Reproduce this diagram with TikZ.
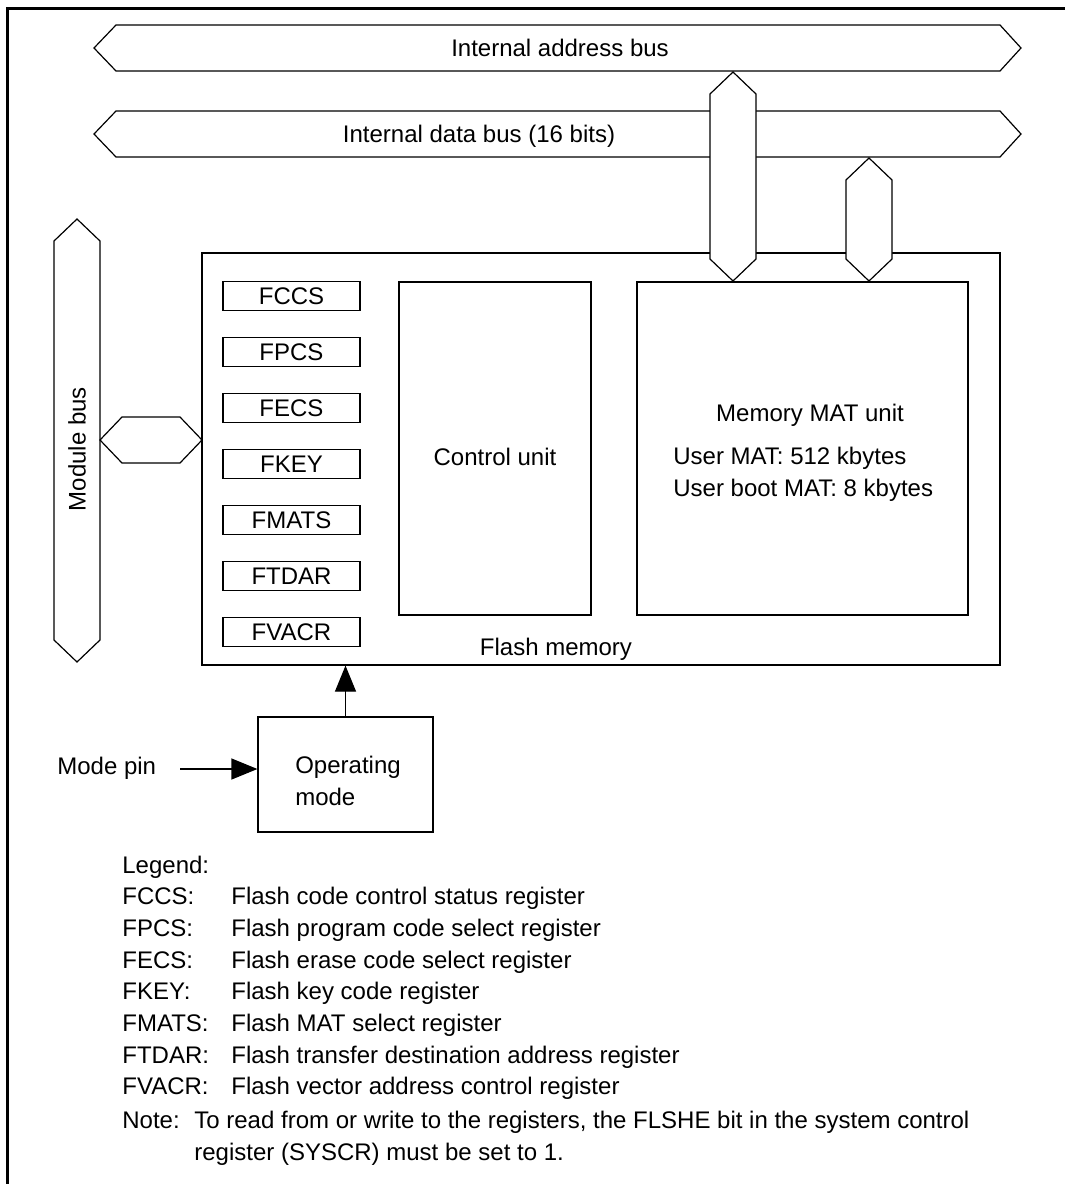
\documentclass[tikz,border=0pt]{standalone}
\usepackage{fontspec}
\setmainfont{Liberation Sans}
\usetikzlibrary{arrows.meta,positioning,fit}

\begin{document}
\begin{tikzpicture}[
 x=0.5pt,y=-0.5pt,>={Triangle[length=13pt,width=10.5pt]},
 font=\fontsize{12}{15.85}\selectfont,
 box/.style={draw,line width=0.6pt,inner sep=0pt},
 regbox/.style={draw,line width=0.6pt,minimum width=68.5pt,minimum height=14.5pt,inner sep=0pt},
 bus/.style={draw,fill=white,line width=0.6pt,line join=miter},
 legtext/.style={inner sep=0pt,anchor=base west},
 flow/.style={->,line width=0.6pt}
]
\useasboundingbox (0,0) rectangle (1065,1184);
\draw[line width=1.5pt] (7,1184) -- (7,8) -- (1065,8);
% internal buses
\foreach \y/\x/\txt/\n in {48/560/Internal address bus/abus,134/479/Internal data bus (16 bits)/dbus}{
 \draw[bus] (94,\y) -- (116,\y-23) -- (1000,\y-23) -- (1021,\y) -- (1000,\y+23) -- (116,\y+23) -- cycle;
 \node[anchor=base,inner sep=0pt] (\n) at (\x,\y+8.5) {\txt};
}
% flash memory
\node[box,fit={(202,253) (1000,665)}] (flash) {};
\node[anchor=base,inner sep=0pt] (flashlbl) at (556,655.5) {Flash memory};
\node[box,fit={(399,282) (591,615)}] (ctrl) {};
\node[anchor=base,inner sep=0pt] (ctrllbl) at (495,465.5) {Control unit};
\node[box,fit={(637,282) (968,615)}] (mat) {};
\node[anchor=base,inner sep=0pt] (matlbl) at (810,421.5) {Memory MAT unit};
\node[legtext] (usermat) at (673,464.5) {User MAT: 512 kbytes};
\node[legtext] (bootmat) at (673,496.5) {User boot MAT: 8 kbytes};
% vertical buses
\foreach \x/\ya/\yb in {733/72/281,869/158/281,77/219/662}
 \draw[bus] (\x,\ya) -- (\x+23,\ya+22) -- (\x+23,\yb-22) -- (\x,\yb) -- (\x-23,\yb-22) -- (\x-23,\ya+22) -- cycle;
\node[rotate=90,inner sep=0pt] (modbus) at (77,449) {Module bus};
\draw[bus] (100,440) -- (122,417) -- (180,417) -- (202,440) -- (180,463) -- (122,463) -- cycle;
% registers and legend
\node[legtext] (legend) at (122,873) {Legend:};
\foreach \r/\d [count=\i] in {FCCS/Flash code control status register,FPCS/Flash program code select register,FECS/Flash erase code select register,FKEY/Flash key code register,FMATS/Flash MAT select register,FTDAR/Flash transfer destination address register,FVACR/Flash vector address control register}{
 \node[regbox] (\r) at (291.5,240+56*\i) {\r};
 \node[legtext] (key\r) at (122,873+31.7*\i) {\r:};
 \node[legtext] (desc\r) at (231,873+31.7*\i) {\d};
}
\node[legtext] (note) at (122,1128.5) {Note:};
\node[legtext] (notea) at (194,1128.5) {To read from or write to the registers, the FLSHE bit in the system control};
\node[legtext] (noteb) at (194,1160.5) {register (SYSCR) must be set to 1.};
% operating mode
\node[box,fit={(258,717) (433,832)}] (opmode) {};
\node[align=left,inner sep=0pt] (opmodelbl) at (348,781) {Operating\\mode};
\node[legtext] (pin) at (57,774.5) {Mode pin};
\coordinate (pinend) at (180,769);
\draw[flow] (pinend) -- (pinend -| opmode.west);
\draw[flow] (opmode.north) -- (opmode.north |- flash.south);
\end{tikzpicture}
\end{document}
